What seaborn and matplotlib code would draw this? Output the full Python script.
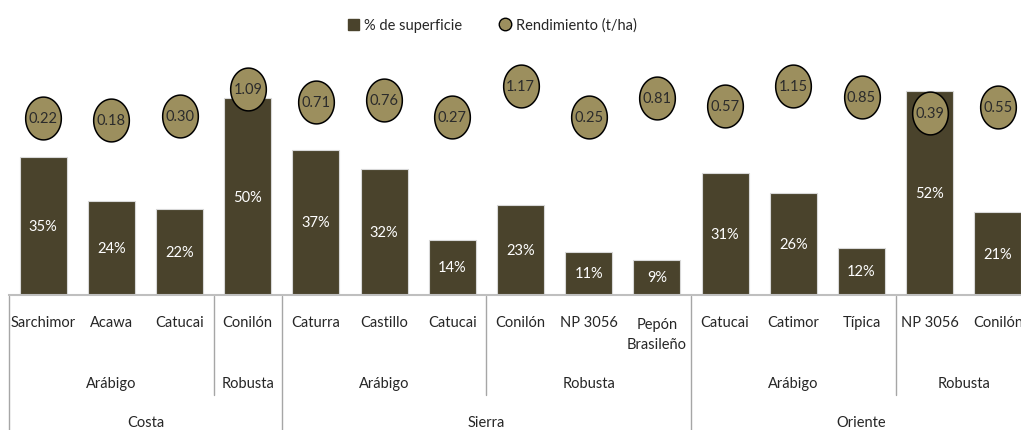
import numpy as np
import pandas as pd
import matplotlib
matplotlib.use('Agg')
import matplotlib.pyplot as plt
from matplotlib.path import Path
from matplotlib.patches import Patch
from matplotlib.lines import Line2D
from matplotlib.transforms import blended_transform_factory
import seaborn as sns

# --- datos ---
variedades = ['Sarchimor', 'Acawa', 'Catucai', 'Conilón', 'Caturra', 'Castillo', 'Catucai',
              'Conilón', 'NP 3056', 'Pepón\nBrasileño', 'Catucai', 'Catimor', 'Típica',
              'NP 3056', 'Conilón']
superficie = [35, 24, 22, 50, 37, 32, 14, 23, 11, 9, 31, 26, 12, 52, 21]
rendimiento = [0.22, 0.18, 0.30, 1.09, 0.71, 0.76, 0.27, 1.17, 0.25, 0.81, 0.57, 1.15, 0.85, 0.39, 0.55]
# grupos: (etiqueta, primera posición, última posición)
tipos = [('Arábigo', 0, 2), ('Robusta', 3, 3), ('Arábigo', 4, 6), ('Robusta', 7, 9),
         ('Arábigo', 10, 12), ('Robusta', 13, 14)]
regiones = [('Costa', 0, 3), ('Sierra', 4, 9), ('Oriente', 10, 14)]

BAR = '#4a432c'
DOT = '#9c8f5e'

sns.set_style('white')
plt.rcParams['font.family'] = ['Lato', 'DejaVu Sans']

W, H = 1021, 431
fig = plt.figure(figsize=(W / 100, H / 100), dpi=100)
slot = 68.2
ax = fig.add_axes([9 / W, 135 / H, 15 * slot / W, 296 / H])

df = pd.DataFrame({'pos': np.arange(len(superficie)), 'superficie': superficie,
                   'rendimiento': rendimiento})

sns.barplot(data=df, x='pos', y='superficie', native_scale=True, width=0.69,
            color=BAR, saturation=1, edgecolor='#d8d8d8', linewidth=0.8, ax=ax)
ax.set_xlim(-0.5, 14.5)
ax.set_ylim(0, 296 / 3.93)
for i, v in enumerate(superficie):
    ax.text(i, v / 2, f'{v}%', ha='center', va='center', color='white', fontsize=10.5)

# rendimiento en eje secundario
ax2 = ax.twinx()
b = 34.3
ax2.set_ylim(-169.1 / b, 126.9 / b)
t = np.linspace(0, 2 * np.pi, 60)
ellipse = Path(np.column_stack([np.cos(t), 1.2 * np.sin(t)]))
sns.scatterplot(data=df, x='pos', y='rendimiento', marker=ellipse, s=950, color=DOT,
                edgecolor='black', linewidth=1.1, ax=ax2, zorder=3)
for i, v in enumerate(rendimiento):
    ax2.text(i, v, f'{v:.2f}', ha='center', va='center', color='#2b2b2b', fontsize=10.5, zorder=4)

for a in (ax, ax2):
    a.set_xlabel('')
    a.set_ylabel('')
    a.set_yticks([])
    a.set_xticks([])
    for s in a.spines.values():
        s.set_visible(False)
ax.spines['bottom'].set_visible(True)
ax.spines['bottom'].set_color('#bfbfbf')
ax.spines['bottom'].set_linewidth(1.5)

# etiquetas jerárquicas
tr = blended_transform_factory(ax.transData, fig.transFigure)
def fy(px):
    return 1 - px / H

for i, lab in enumerate(variedades):
    if '\n' in lab:
        ax.text(i, fy(335), lab, transform=tr, ha='center', va='center',
                fontsize=10.5, color='#262626', linespacing=1.55)
    else:
        ax.text(i, fy(323), lab, transform=tr, ha='center', va='center',
                fontsize=10.5, color='#262626')
for lab, a0, a1 in tipos:
    ax.text((a0 + a1) / 2, fy(384), lab, transform=tr, ha='center', va='center',
            fontsize=10.5, color='#262626')
for lab, a0, a1 in regiones:
    ax.text((a0 + a1) / 2, fy(423), lab, transform=tr, ha='center', va='center',
            fontsize=10.5, color='#262626')

for x, y_end in [(-0.5, 431), (2.5, 396), (3.5, 431), (6.5, 396), (9.5, 431), (12.5, 396)]:
    ax.plot([x, x], [fy(297), fy(y_end)], transform=tr, color='#a6a6a6', lw=1, clip_on=False)

handles = [Patch(facecolor=BAR, edgecolor=BAR),
           Line2D([], [], marker='o', ls='', markerfacecolor=DOT, markeredgecolor='black',
                  markersize=9)]
fig.legend(handles, ['% de superficie', 'Rendimiento (t/ha)'], loc='center',
           bbox_to_anchor=(492 / W, fy(26)), ncol=2, frameon=False, fontsize=10.5,
           handlelength=0.8, handleheight=0.8, handletextpad=0.3, columnspacing=2.6)

fig.savefig('out.png', dpi=100)
